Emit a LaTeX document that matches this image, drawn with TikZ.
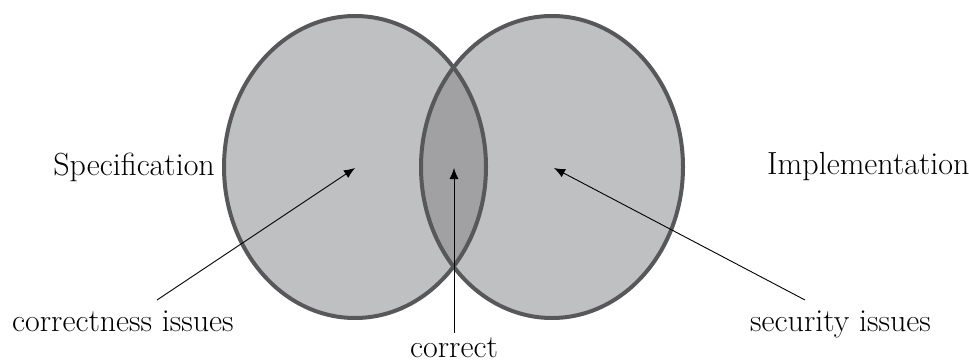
\documentclass[tikz,border=0pt]{standalone}
\usetikzlibrary{arrows.meta}
\definecolor{setfill}{RGB}{191,192,194}
\definecolor{capfill}{RGB}{161,161,163}
\definecolor{rimcol}{RGB}{88,88,90}
\begin{document}
\begin{tikzpicture}[x=1pt,y=-1pt,
  lbl/.style={inner sep=0pt,font=\fontsize{32}{38}\selectfont},
  rim/.style={draw=rimcol,line width=4pt},
  pointer/.style={draw=black,line width=0.9pt,-{Latex[length=11pt,width=9pt]}}]
\useasboundingbox (0,0) rectangle (969,362);
% fills
\fill[setfill] (355,167) ellipse [x radius=131,y radius=151];
\fill[setfill] (552,167) ellipse [x radius=131,y radius=151];
\begin{scope}
  \clip (355,167) ellipse [x radius=131,y radius=151];
  \fill[capfill] (552,167) ellipse [x radius=131,y radius=151];
\end{scope}
% rims
\draw[rim] (355,167) ellipse [x radius=131,y radius=151];
\draw[rim] (552,167) ellipse [x radius=131,y radius=151];
% labels
\node[lbl,anchor=base east] (spec) at (215,175) {Specification};
\node[lbl,anchor=base west] (impl) at (767,174) {Implementation};
\node[lbl,anchor=base west] (ci) at (12,331) {correctness issues};
\node[lbl,anchor=base west] (si) at (750,331) {security issues};
\node[lbl,anchor=base] (cor) at (454,357) {correct};
% pointer ends
\coordinate (ciS) at (157,300);
\coordinate (ciT) at (355,168);
\coordinate (corS) at (454,333);
\coordinate (corT) at (454,168);
\coordinate (siS) at (805,300);
\coordinate (siT) at (554,168);
\draw[pointer] (ciS) -- (ciT);
\draw[pointer] (corS) -- (corT);
\draw[pointer] (siS) -- (siT);
\end{tikzpicture}
\end{document}
